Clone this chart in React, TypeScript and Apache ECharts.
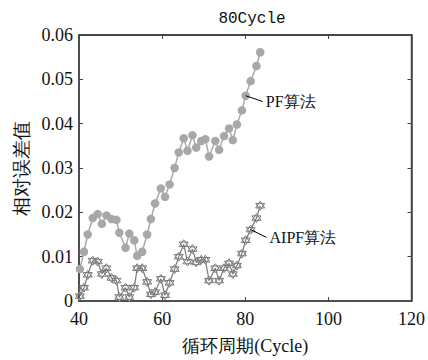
import React, { useEffect, useRef } from "react";
import * as echarts from "echarts";

const titleText = "80Cycle";
const xName = "循环周期(Cycle)";
const yName = "相对误差值";
const xMin = 40;
const xMax = 120;
const xStep = 20;
const yMin = 0;
const yMax = 0.06;
const yStep = 0.01;

const cycles = [
  40.2, 41.2, 42.1, 43.3, 44.5, 45.5, 46.6, 47.8, 49.0, 49.7,
  51.2, 52.1, 53.3, 54.0, 55.2, 56.4, 57.3, 58.3, 59.7, 60.7,
  61.8, 63.0, 64.0, 65.2, 66.1, 67.3, 68.2, 69.4, 70.4, 71.3,
  72.8, 73.7, 74.9, 76.1, 77.0, 78.0, 79.2, 80.1, 81.3, 82.7, 83.6,
];

const pfError = [
  0.0072, 0.0111, 0.015, 0.0187, 0.0196, 0.0174, 0.0193, 0.0185, 0.0183, 0.0154,
  0.012, 0.0152, 0.0137, 0.0102, 0.0111, 0.015, 0.0185, 0.022, 0.0254, 0.0235,
  0.0263, 0.03, 0.0335, 0.0367, 0.0339, 0.0374, 0.0346, 0.0361, 0.0365, 0.0326,
  0.0361, 0.0341, 0.0372, 0.0389, 0.0363, 0.0398, 0.043, 0.0463, 0.0496, 0.053, 0.0561,
];

const aipfError = [
  0.0011, 0.003, 0.0059, 0.0091, 0.0089, 0.0061, 0.0074, 0.0052, 0.0046, 0.0009,
  0.003, 0.0009, 0.003, 0.0074, 0.0074, 0.0043, 0.0015, 0.002, 0.005, 0.0013,
  0.0041, 0.0072, 0.01, 0.0128, 0.0089, 0.0117, 0.0087, 0.0093, 0.0093, 0.0046,
  0.0074, 0.0046, 0.0074, 0.0085, 0.0061, 0.008, 0.0107, 0.0137, 0.0161, 0.0187, 0.0215,
];

const pfLabel = "PF算法";
const aipfLabel = "AIPF算法";
// annotation leader lines: [from point, to label anchor]
const pfLeader = [[80.1, 0.0463], [84.2, 0.045]];
const aipfLeader = [[81.3, 0.0161], [85.1, 0.01435]];

const hexagram =
  "path://M10,0 L18.66,15 L1.34,15 Z M10,20 L18.66,5 L1.34,5 Z";

const serif = "Liberation Serif";

function axisLine() {
  return { show: true, onZero: false, lineStyle: { color: "#444", width: 1.5 } };
}
function tick() {
  return { show: true, inside: true, length: 4, lineStyle: { color: "#444", width: 1 } };
}

export default function App() {
  const ref = useRef<HTMLDivElement>(null);
  useEffect(() => {
    if (!ref.current) return;
    const chart = echarts.init(ref.current, undefined, { renderer: "svg" });
    const leaderData = (pts: number[][]) => [
      { coord: pts[0], lineStyle: { color: "#000", width: 1, type: "solid" } },
      { coord: pts[1] },
    ];
    const frameTop = [
      { coord: [xMin, yMax], lineStyle: { color: "#444", width: 1.5, type: "solid" } },
      { coord: [xMax, yMax] },
    ];
    const labelPoint = (pts: number[][], label: string) => ({
      silent: true,
      symbol: "circle",
      symbolSize: 0.1,
      itemStyle: { color: "rgba(0,0,0,0)" },
      label: {
        show: true,
        position: "right",
        distance: 3,
        formatter: label,
        color: "#111",
        fontSize: 16,
        fontFamily: serif,
      },
      data: [{ coord: pts[1] }],
    });
    chart.setOption({
      animation: false,
      backgroundColor: "#fff",
      title: {
        text: titleText,
        left: 247,
        textAlign: "center",
        top: 6,
        textStyle: { fontSize: 16, fontWeight: "normal", color: "#111", fontFamily: "Liberation Mono" },
      },
      grid: {
        left: 79,
        right: 12,
        top: 35,
        bottom: 49,
        show: true,
        borderColor: "#444",
        borderWidth: 1.5,
      },
      xAxis: [
        {
          type: "value",
          min: xMin,
          max: xMax,
          interval: xStep,
          position: "bottom",
          name: xName,
          nameLocation: "middle",
          nameGap: 36,
          nameTextStyle: { fontSize: 18, color: "#111", fontFamily: serif },
          axisLine: axisLine(),
          axisTick: tick(),
          axisLabel: { fontSize: 18, color: "#111", fontFamily: serif, margin: 9 },
          splitLine: { show: false },
        },
        {
          type: "value",
          min: xMin,
          max: xMax,
          interval: xStep,
          position: "top",
          axisLine: axisLine(),
          axisTick: tick(),
          axisLabel: { show: false },
          splitLine: { show: false },
        },
      ],
      yAxis: [
        {
          type: "value",
          min: yMin,
          max: yMax,
          interval: yStep,
          position: "left",
          name: yName,
          nameLocation: "middle",
          nameGap: 47,
          nameRotate: 90,
          nameTextStyle: { fontSize: 19, color: "#111", fontFamily: serif },
          axisLine: axisLine(),
          axisTick: tick(),
          axisLabel: {
            fontSize: 18,
            color: "#111",
            fontFamily: serif,
            margin: 6,
            formatter: (v: number) => (v === 0 ? "0" : v.toFixed(2)),
          },
          splitLine: { show: false },
        },
        {
          type: "value",
          min: yMin,
          max: yMax,
          interval: yStep,
          position: "right",
          axisLine: axisLine(),
          axisTick: tick(),
          axisLabel: { show: false },
          splitLine: { show: false },
        },
      ],
      series: [
        {
          name: "PF",
          type: "line",
          xAxisIndex: 0,
          yAxisIndex: 0,
          data: cycles.map((c, i) => [c, pfError[i]]),
          symbol: "circle",
          symbolSize: 8.5,
          showAllSymbol: true,
          lineStyle: { color: "#aaaaaa", width: 1.5 },
          itemStyle: { color: "#a8a8a8", borderColor: "#a8a8a8", borderWidth: 0 },
          markLine: {
            silent: true,
            symbol: ["none", "none"],
            label: { show: false },
            lineStyle: { color: "#000", width: 1, type: "solid" },
            data: [leaderData(pfLeader), frameTop],
          },
          markPoint: labelPoint(pfLeader, pfLabel),
        },
        {
          name: "AIPF",
          type: "line",
          xAxisIndex: 0,
          yAxisIndex: 0,
          data: cycles.map((c, i) => [c, aipfError[i]]),
          symbol: hexagram,
          symbolSize: 9,
          showAllSymbol: true,
          lineStyle: { color: "#7a7a7a", width: 1.2 },
          itemStyle: { color: "#ffffff", borderColor: "#777777", borderWidth: 1 },
          markLine: {
            silent: true,
            symbol: ["none", "none"],
            label: { show: false },
            lineStyle: { color: "#000", width: 1, type: "solid" },
            data: [leaderData(aipfLeader)],
          },
          markPoint: labelPoint(aipfLeader, aipfLabel),
        },
      ],
    });
    return () => chart.dispose();
  }, []);
  return (
    <div
      ref={ref}
      style={{ position: "fixed", left: 0, top: 0, width: 428, height: 360, background: "#fff" }}
    />
  );
}
